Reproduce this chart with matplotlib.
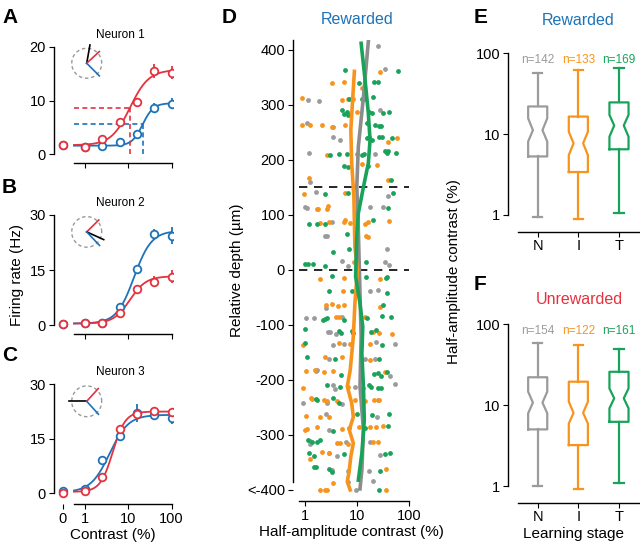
import numpy as np
import matplotlib
matplotlib.use('Agg')
import matplotlib.pyplot as plt

plt.rcParams['font.family'] = ['Liberation Sans', 'DejaVu Sans']
plt.rcParams['font.size'] = 10
plt.rcParams['axes.linewidth'] = 1.0
plt.rcParams['xtick.major.size'] = 3.5
plt.rcParams['ytick.major.size'] = 3.5
plt.rcParams['xtick.minor.size'] = 0
plt.rcParams['ytick.minor.size'] = 0

RED = '#e4323f'
BLUE = '#1e73b8'
GRAY = '#9b9b9b'
ORANGE = '#f7941d'
GREEN = '#19a35a'

# ---- panels A-C: contrast response of three neurons ----
contrast = [0, 1, 2.5, 6.3, 16, 40, 100]
zero_pos = 0.305  # where contrast 0 sits on the log axis

n1_red = [1.7, 1.4, 2.8, 6.0, 9.7, 15.4, 15.2]
n1_red_err = [0.4, 0.3, 0.4, 0.7, 0.8, 1.3, 1.2]
n1_blue = [1.7, 1.4, 1.6, 2.2, 3.7, 8.7, 9.4]
n1_blue_err = [0.3, 0.3, 0.3, 0.4, 0.6, 0.9, 1.0]
n2_red = [0.3, 0.45, 0.6, 3.4, 9.7, 11.8, 13.2]
n2_red_err = [0.3, 0.3, 0.3, 0.8, 1.2, 1.5, 1.7]
n2_blue = [0.3, 0.45, 0.6, 5.0, 15.2, 24.7, 24.3]
n2_blue_err = [0.3, 0.3, 0.3, 0.8, 1.2, 1.5, 2.3]
n3_red = [0.2, 0.5, 4.6, 17.7, 21.8, 22.6, 22.4]
n3_red_err = [0.5, 0.5, 0.7, 1.2, 1.0, 1.0, 1.0]
n3_blue = [0.7, 1.2, 9.2, 15.8, 22.0, 21.6, 20.7]
n3_blue_err = [0.5, 0.5, 1.0, 1.5, 2.5, 1.5, 1.7]

# fitted hyperbolic ratio params: r0, rmax, c50, n
n1_fit = {'red': (1.7, 14.0, 11.0, 2.0), 'blue': (1.6, 7.9, 21.5, 3.5)}
n2_fit = {'red': (0.4, 12.9, 10.9, 2.3), 'blue': (0.4, 25.3, 13.6, 2.15)}
n3_fit = {'red': (0.4, 22.1, 4.4, 3.0), 'blue': (0.3, 21.3, 3.7, 2.0)}

# preferred-direction icons: angle (deg), length (radius units)
n1_dirs = [('k', 80, 1.24), (RED, 43, 1.15), (BLUE, -45, 1.19)]
n2_dirs = [(RED, 44, 1.12), ('k', -24, 1.24), (BLUE, -46, 1.23)]
n3_dirs = [('k', 180, 1.15), (RED, 47, 1.13), (BLUE, -47, 1.15)]

# ---- panel D: half-amplitude contrast vs depth ----
gray_c = [25, 34, 1.86, 1.13, 28, 1.08, 3.5, 3.5, 4.7, 1.2, 9.8, 22, 1.25, 1.6, 40, 1.0, 1.1,
          18, 31, 3.3, 2.4, 2.6, 37, 5.2, 6.8, 34, 41, 18, 25, 2.5, 1.5, 1.05, 5.1, 2.8, 3.0, 4.0,
          3.5, 5.7, 23, 54, 2.9, 14, 22, 1.6, 1.68, 43, 3.5, 3.8, 9.1, 13, 54, 0.93, 2.6, 5.1, 25,
          2.5, 13, 24, 2.9, 7.1, 1.25, 6.2, 18, 1.25, 2.9, 4.1, 28, 3.1, 3.3, 6.8, 17, 20, 6.8, 9.6]
gray_d = [408, 365, 308, 309, 290, 267, 259, 241, 236, 212, 210, 210, 160, 141, 134, 114, 112,
          114, 115, 88, 61, 61, 38, 16, 7, 14, 9, -38, -36, -70, -87, -87, -86, -112, -112, -117,
          -136, -135, -131, -134, -162, -161, -161, -183, -182, -192, -210, -216, -212, -215, -208, -241, -241, -244, -237,
          -262, -267, -267, -291, -287, -311, -312, -313, -316, -332, -338, -336, -364, -364, -365, -365, -384, -386, -400]

orange_c = [28, 3.3, 5.5, 12.3, 0.89, 5.1, 6.8, 8.5, 9.8, 0.89, 1.25, 2.1, 3.3, 5.9, 58, 39, 2.7,
            12.3, 24, 1.2, 39, 0.96, 5.9, 1.8, 2.8, 1.7, 2.6, 1.9, 2.9, 5.5, 5.9, 7.4, 14, 16.6, 42,
            14.9, 16, 8.7, 1.9, 5.5, 28, 5.3, 2.5, 3.3, 4.4, 5.5, 28, 3.9, 4.5, 14, 0.93, 20.6, 27,
            47, 4.6, 7.4, 18, 2.4, 5.1, 18, 1.56, 1.05, 2.3, 3.4, 35, 0.9, 6.8, 1.3, 1.35, 2.3, 2.6,
            4.1, 9.1, 14, 21.5, 27, 1.05, 1.9, 2.9, 1.0, 1.08, 1.68, 5.1, 11, 18, 23, 32, 4.1, 4.7,
            6.8, 20, 25, 2.1, 2.9, 1.25, 36, 3.5, 1.9, 2.4, 2.7, 36]
orange_d = [359, 339, 341, 331, 313, 309, 311, 311, 288, 263, 264, 263, 259, 263, 240, 233, 209,
            193, 190, 167, 164, 138, 139, 111, 116, 110, 110, 86, 88, 88, 90, 85, 84, 87, 89,
            61, 59, 15, -17, -15, -17, -38, -64, -61, -65, -64, -67, -86, -86, -85, -136, -112, -115,
            -117, -133, -134, -134, -159, -159, -164, -182, -184, -185, -184, -186, -215, -213, -233, -235, -236, -239,
            -239, -237, -238, -236, -237, -265, -267, -268, -291, -290, -285, -289, -285, -285, -285, -284, -314, -315,
            -317, -313, -313, -331, -333, -344, -362, -388, -400, -400, -400, -400]

green_c = [5.9, 62, 11, 21, 25, 7.1, 12.6, 13.6, 20.6, 5.1, 5.5, 6.3, 6.8, 17, 19, 31, 41, 15.4,
           22, 26, 29, 15.4, 17.3, 19, 27, 30, 47, 3.0, 4.5, 6.3, 12.3, 13.6, 35, 37, 40, 55, 5.6,
           6.8, 16, 45, 2.4, 6.8, 50, 40, 1.2, 1.72, 2.4, 20, 6.5, 7.0, 3.4, 1.0, 1.16, 1.4, 2.4,
           15, 3.3, 15, 36, 37, 2.9, 7.9, 38, 32, 2.2, 2.4, 2.6, 5.5, 15.8, 30, 45, 1.0, 1.0, 4.6,
           4.9, 7.9, 8.5, 18.5, 23, 30, 1.08, 3.8, 26, 4.9, 21, 25, 29, 38, 2.6, 4.7, 17, 18.6, 25,
           29, 1.6, 1.68, 3.4, 4.6, 9.8, 19, 42, 3.4, 14, 40, 1.7, 1.9, 1.16, 1.35, 1.2, 1.5, 5.7,
           35, 43, 1.5, 2.9, 3.3, 28, 1.6, 26]
green_d = [364, 361, 339, 341, 341, 311, 311, 311, 314, 291, 284, 287, 281, 287, 285, 285, 287, 267,
           263, 262, 261, 240, 241, 237, 241, 242, 240, 209, 210, 210, 209, 210, 216, 213, 216, 212, 189,
           187, 189, 164, 138, 139, 139, 112, 84, 84, 84, 90, 65, 38, 33, 11, 11, 11, 7,
           14, -11, -13, -15, -12, -38, -39, -42, -64, -91, -90, -87, -91, -88, -84, -86, -108, -132, -111,
           -115, -111, -115, -112, -110, -136, -159, -162, -161, -191, -190, -188, -192, -185, -210, -212, -210, -213, -214,
           -215, -235, -236, -233, -242, -262, -264, -262, -293, -288, -283, -313, -310, -310, -312, -333, -339, -334,
           -335, -333, -358, -362, -368, -365, -359, -400]

# running-median lines (contrast, depth)
gray_line_c = [16.5, 13.3, 10.6, 9.9, 10.6, 11.1, 12.0, 11.4, 13.3, 12.4, 11.4]
gray_line_d = [415, 315, 224, 151, 73, 0, -121, -212, -291, -364, -398]
orange_line_c = [8.9, 7.6, 7.9, 8.7, 9.1, 10.2, 9.1, 8.5, 7.4, 6.5, 7.9, 8.5, 7.1, 8.5, 7.6, 7.1, 6.5, 7.4]
orange_line_d = [361, 255, 194, 133, 42, 0, -61, -121, -182, -212, -242, -267, -291, -315, -339, -364, -385, -400]
green_line_c = [12.0, 14.3, 16.5, 17.8, 16.5, 13.3, 10.6, 9.9, 9.4, 11.4, 12.9, 12.4, 13.3, 13.8, 12.4, 10.6]
green_line_d = [412, 345, 285, 236, 194, 151, 103, 61, -12, -61, -103, -152, -212, -273, -333, -382]

# ---- panels E/F: box plot summaries ----
stages = ['N', 'I', 'T']
stage_colors = [GRAY, ORANGE, GREEN]
rew_n = [142, 133, 169]
rew_box = [  # whislo, q1, med, q3, whishi, cilo, cihi
    (0.95, 5.3, 11.2, 22, 57, 8.1, 15.7),
    (0.89, 3.4, 7.7, 16.5, 62, 5.5, 10.7),
    (1.05, 6.5, 12.8, 24.7, 66, 9.3, 17.3),
]
unrew_n = [154, 122, 161]
unrew_box = [
    (1.0, 5.0, 10.7, 22, 57.6, 7.9, 14.6),
    (0.91, 3.2, 8.0, 19.4, 55, 5.9, 11.0),
    (1.08, 6.2, 12.1, 25.7, 49, 9.1, 16.0),
]

W, H = 640, 553
fig = plt.figure(figsize=(W / 100, H / 100), dpi=100)


def rect(l, t, r, b):
    return [l / W, 1 - b / H, (r - l) / W, (b - t) / H]


def naka(c, p):
    r0, rmax, c50, n = p
    return r0 + rmax * c ** n / (c ** n + c50 ** n)


def neuron_panel(box, ymax, ybot, yticks, red, red_err, blue, blue_err, fit, dirs, title, labels):
    ax = fig.add_axes(box)
    ax.set_xscale('log')
    ax.set_xlim(0.187, 108)
    ax.set_ylim(ybot, ymax)
    for s in ['top', 'right']:
        ax.spines[s].set_visible(False)
    ax.spines['left'].set_bounds(0, ymax)
    ax.spines['bottom'].set_bounds(0.557, 100)
    xs = [zero_pos if c == 0 else c for c in contrast]
    cc = np.logspace(np.log10(0.557), 2, 200)
    ax.plot(cc, naka(cc, fit['blue']), color=BLUE, lw=1.3)
    ax.plot(cc, naka(cc, fit['red']), color=RED, lw=1.3)
    ax.errorbar(xs, blue, yerr=blue_err, fmt='o', color=BLUE, mfc='white', ms=5.5, mew=1.3,
                elinewidth=1.3, capsize=0, zorder=3)
    ax.errorbar(xs, red, yerr=red_err, fmt='o', color=RED, mfc='white', ms=5.5, mew=1.3,
                elinewidth=1.3, capsize=0, zorder=3)
    ax.set_yticks(yticks)
    ax.minorticks_off()
    if labels:
        ax.set_xticks([zero_pos, 1, 10, 100])
        ax.set_xticklabels(['0', '1', '10', '100'])
    else:
        ax.set_xticks([1, 10, 100])
        ax.set_xticklabels([])
    ax.tick_params(labelsize=10.5, pad=2)
    ax.text(0.556, 1.1, title, transform=ax.transAxes, ha='center', va='center', fontsize=8.5)
    ins = ax.inset_axes([0.278 - 0.163, 0.858 - 0.167, 0.326, 0.334])
    ins.set_xlim(-1.3, 1.3)
    ins.set_ylim(-1.3, 1.3)
    ins.axis('off')
    t = np.linspace(0, 2 * np.pi, 100)
    ins.plot(np.cos(t), np.sin(t), color='#999999', lw=1.0, ls=(0, (2.5, 2)))
    for col, ang, ln in dirs:
        a = np.deg2rad(ang)
        ins.plot([0, ln * np.cos(a)], [0, ln * np.sin(a)], color=col, lw=1.2)
    return ax


axA = neuron_panel(rect(53.5, 46.7, 173, 163.3), 20, -1.67, [0, 10, 20], n1_red, n1_red_err,
                   n1_blue, n1_blue_err, n1_fit, n1_dirs, 'Neuron 1', False)
for key, col in [('red', RED), ('blue', BLUE)]:
    r0, rmax, c50, n = n1_fit[key]
    half = r0 + rmax / 2
    axA.plot([0.557, c50], [half, half], color=col, lw=1.2, ls=(0, (3, 2)))
    axA.plot([c50, c50], [0, half], color=col, lw=1.2, ls=(0, (3, 2)))

axB = neuron_panel(rect(53.5, 215, 173, 334), 30, -2.45, [0, 15, 30], n2_red, n2_red_err,
                   n2_blue, n2_blue_err, n2_fit, n2_dirs, 'Neuron 2', False)
axB.set_ylabel('Firing rate (Hz)', fontsize=11, labelpad=4)

axC = neuron_panel(rect(53.5, 384.3, 173, 504), 30, -2.94, [0, 15, 30], n3_red, n3_red_err,
                   n3_blue, n3_blue_err, n3_fit, n3_dirs, 'Neuron 3', True)
axC.set_xlabel('Contrast (%)', fontsize=11, labelpad=2)

# ---- D ----
axD = fig.add_axes(rect(292.7, 40, 410, 501))
axD.set_xscale('log')
axD.set_xlim(10 ** -0.237, 10 ** 2.019)
axD.set_ylim(-420, 418)
for s in ['top', 'right']:
    axD.spines[s].set_visible(False)
axD.spines['left'].set_bounds(-385, 418)
axD.spines['bottom'].set_bounds(0.77, 100)
axD.scatter(gray_c, gray_d, s=12, color=GRAY, lw=0, zorder=2)
axD.scatter(orange_c, orange_d, s=12, color=ORANGE, lw=0, zorder=2)
axD.scatter(green_c, green_d, s=12, color=GREEN, lw=0, zorder=2)
axD.hlines([0, 150], 0.77, 100, colors='k', lw=1.2, linestyles=[(0, (5, 4))], zorder=3)
axD.plot(gray_line_c, gray_line_d, color='#8c8c8c', lw=2.6, zorder=4)
axD.plot(orange_line_c, orange_line_d, color=ORANGE, lw=2.6, zorder=4)
axD.plot(green_line_c, green_line_d, color=GREEN, lw=2.6, zorder=4)
axD.set_xticks([1, 10, 100])
axD.set_xticklabels(['1', '10', '100'])
axD.set_yticks([-400, -300, -200, -100, 0, 100, 200, 300, 400])
axD.set_yticklabels(['<-400', '-300', '-200', '-100', '0', '100', '200', '300', '400'])
axD.minorticks_off()
axD.tick_params(labelsize=10.5, pad=2)
axD.set_ylabel('Relative depth (\u00b5m)', fontsize=11, labelpad=2)
axD.set_xlabel('Half-amplitude contrast (%)', fontsize=11, labelpad=2)
fig.text(356.7 / W, 1 - 20 / H, 'Rewarded', fontsize=11.5, color=BLUE, ha='center', va='center')


def box_panel(box, stats_rows, ns, ybot):
    ax = fig.add_axes(box)
    ax.set_yscale('log')
    ax.set_xlim(0.262, 3.517)
    ax.set_ylim(ybot, 100)
    for s in ['top', 'right']:
        ax.spines[s].set_visible(False)
    ax.spines['left'].set_bounds(1, 100)
    ax.spines['bottom'].set_bounds(0.515, 3.517)
    for i, (row, col, n) in enumerate(zip(stats_rows, stage_colors, ns)):
        lo, q1, med, q3, hi, cilo, cihi = row
        st = [dict(whislo=lo, q1=q1, med=med, q3=q3, whishi=hi, cilo=cilo, cihi=cihi, fliers=[])]
        lp = dict(color=col, linewidth=1.6)
        ax.bxp(st, positions=[i + 1], widths=0.47, shownotches=True, showfliers=False,
               boxprops=lp, whiskerprops=lp, capprops=lp, medianprops=dict(linewidth=0))
        ax.text(i + 1, 82, 'n=%d' % n, color=col, ha='center', va='center', fontsize=8.5)
    ax.set_xticks([1, 2, 3])
    ax.set_xticklabels(stages)
    ax.set_yticks([1, 10, 100])
    ax.set_yticklabels(['1', '10', '100'])
    ax.minorticks_off()
    ax.tick_params(labelsize=10.5, pad=2)
    return ax


axE = box_panel(rect(507.7, 53.3, 640, 231.7), rew_box, rew_n, 10 ** -0.2066)
axF = box_panel(rect(507.7, 324, 640, 502.7), unrew_box, unrew_n, 10 ** -0.206)
axF.set_xlabel('Learning stage', fontsize=11, labelpad=2)
fig.text(578.3 / W, 1 - 20.7 / H, 'Rewarded', fontsize=11.5, color=BLUE, ha='center', va='center')
fig.text(579 / W, 1 - 299 / H, 'Unrewarded', fontsize=11.5, color=RED, ha='center', va='center')
fig.text(454 / W, 1 - 272 / H, 'Half-amplitude contrast (%)', fontsize=11, rotation=90,
         ha='center', va='center')

for letter, x, y in [('A', 2, 23.3), ('B', 2, 193.3), ('C', 2, 361), ('D', 221.7, 23.3),
                     ('E', 473.3, 23.3), ('F', 473.3, 290)]:
    fig.text(x / W, 1 - y / H, letter, fontsize=15, fontweight='bold', ha='left', va='baseline')

fig.savefig('out.png', dpi=100)
